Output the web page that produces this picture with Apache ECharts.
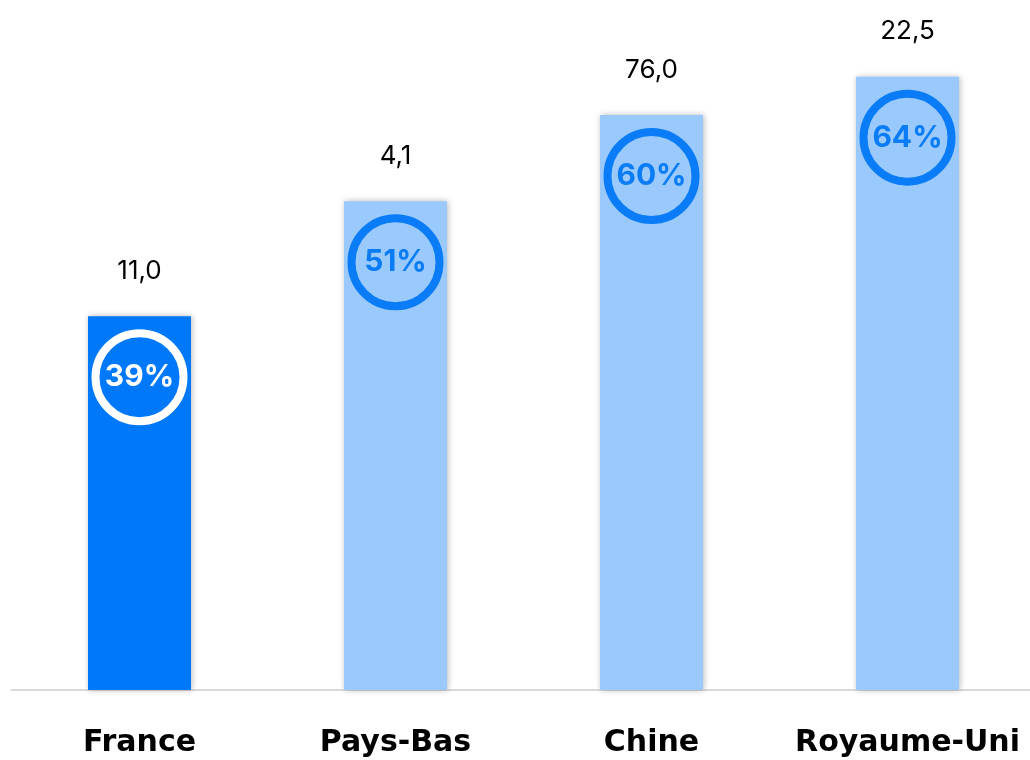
<!DOCTYPE html>
<html><head><meta charset="utf-8">
<script src="https://cdn.jsdelivr.net/npm/echarts@6/dist/echarts.min.js"></script>
<style>html,body{margin:0;padding:0;background:#fff}#c{width:1030px;height:760px}</style>
</head><body><div id="c"></div>
<script>
const categories = ['France', 'Pays-Bas', 'Chine', 'Royaume-Uni'];
const shareValues = [39, 51, 60, 64];
const topLabels = ['11,0', '4,1', '76,0', '22,5'];
const yMax = 72;

const chart = echarts.init(document.getElementById('c'));
const darkBlue = '#0078fa', lightBlue = '#99c9fd', ringBlue = '#0a7cf7';
chart.setOption({
  animation: false,
  grid: { left: 11.5, width: 1024, top: 0, bottom: 70, containLabel: false, outerBoundsMode: 'none' },
  xAxis: {
    type: 'category', data: categories,
    axisLine: { lineStyle: { color: '#d9d9d9', width: 2 } },
    axisTick: { show: false },
    axisLabel: { fontFamily: 'DejaVu Sans', fontWeight: 'bold', fontSize: 30, color: '#000', margin: 38, interval: 0 }
  },
  yAxis: { type: 'value', min: 0, max: yMax, show: false, splitLine: { show: false } },
  series: [{
    type: 'bar', barWidth: 103,
    data: shareValues.map((v, i) => ({ value: v, itemStyle: { color: i === 0 ? darkBlue : lightBlue } })),
    itemStyle: { shadowBlur: 6, shadowColor: 'rgba(0,0,0,0.28)', shadowOffsetX: 1 },
    label: {
      show: true, position: 'top', distance: 32,
      formatter: p => topLabels[p.dataIndex],
      fontFamily: 'Inter', fontSize: 26, color: '#000'
    }
  }, {
    type: 'scatter',
    z: 5,
    symbol: 'circle',
    symbolSize: 88,
    symbolOffset: [0, 61],
    data: shareValues.map((v, i) => ({
      value: v,
      itemStyle: { opacity: 1, color: 'rgba(0,0,0,0)', borderColor: i === 0 ? '#ffffff' : ringBlue, borderWidth: 8 },
      label: { color: i === 0 ? '#ffffff' : ringBlue }
    })),
    label: {
      show: true, position: 'inside',
      formatter: p => p.value + '%',
      fontFamily: 'Inter', fontWeight: 'bold', fontSize: 30
    },
    emphasis: { disabled: true }
  }]
});
</script></body></html>
